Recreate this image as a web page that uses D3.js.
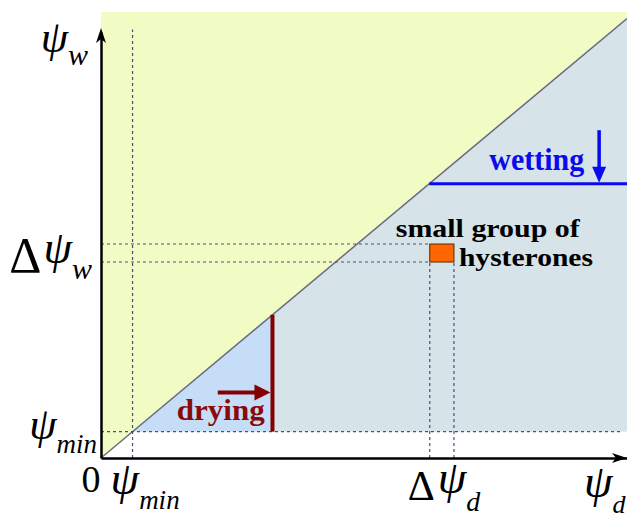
<!DOCTYPE html>
<html>
<head>
<meta charset="utf-8">
<script src="https://cdn.jsdelivr.net/npm/d3@7"></script>
<style>
  body { margin: 0; background: #fff; }
  svg { display: block; }
</style>
</head>
<body>
<div id="chart"></div>
<script>
// Valores (en unidades de psi)
const psiDomain = [0, 100];     // psi_d
const psiWDomain = [0, 101.5];  // psi_w
const psiMin = 6;
const dryingFront = 32.6;
const wettingFront = 62.4;
const groupD = [62.5, 67.1];    // pequeño grupo de histerones (psi_d)
const groupW = [44.6, 48.7];    // (psi_w)
const dryingArrow = [22.2, 14.9];   // inicio en psi_d, altura en psi_w
const wettingArrow = [94.7, 74.6];  // posición en psi_d, inicio en psi_w

const W = 627, H = 518;
const serif = "'Liberation Serif', 'Times New Roman', serif";

const svg = d3.select('#chart').append('svg')
    .attr('width', W)
    .attr('height', H);

const x = d3.scaleLinear().domain(psiDomain).range([101, 627]);
const y = d3.scaleLinear().domain(psiWDomain).range([458, 12]);

const dMax = psiDomain[1];
const poly = pts => pts.map(p => x(p[0]) + ',' + y(p[1])).join(' ');

// Regiones del triángulo de Preisach
svg.append('rect')
    .attr('x', x(0)).attr('y', y(psiWDomain[1]))
    .attr('width', x(dMax) - x(0)).attr('height', y(0) - y(psiWDomain[1]))
    .attr('fill', '#f1fbc4');

svg.append('polygon')
    .attr('points', poly([[psiMin, psiMin], [dMax, psiMin], [dMax, dMax]]))
    .attr('fill', '#d6e3e8');

svg.append('polygon')
    .attr('points', poly([[psiMin, psiMin], [dryingFront, psiMin], [dryingFront, dryingFront]]))
    .attr('fill', '#c5ddf7');

svg.append('polygon')
    .attr('points', poly([[0, 0], [dMax, 0], [dMax, psiMin], [psiMin, psiMin]]))
    .attr('fill', '#ffffff');

// Diagonal psi_w = psi_d
svg.append('line')
    .attr('x1', x(0)).attr('y1', y(0))
    .attr('x2', x(dMax)).attr('y2', y(dMax))
    .attr('stroke', '#6a6a82').attr('stroke-width', 1.5);

// Líneas punteadas
const dashed = (x1, y1, x2, y2) => svg.append('line')
    .attr('x1', x(x1)).attr('y1', y(y1))
    .attr('x2', x(x2)).attr('y2', y(y2))
    .attr('stroke', '#4c4c82').attr('stroke-width', 1.2)
    .attr('stroke-dasharray', '3,3');

dashed(psiMin, 0, psiMin, 97.5);
dashed(0, psiMin, 99, psiMin);
groupW.forEach(v => dashed(0, v, groupD[0], v));
groupD.forEach(v => dashed(v, 0, v, groupW[0]));

// Frente de secado
svg.append('line')
    .attr('x1', x(dryingFront)).attr('y1', y(psiMin))
    .attr('x2', x(dryingFront)).attr('y2', y(dryingFront))
    .attr('stroke', '#850000').attr('stroke-width', 4);

const ax = x(dryingArrow[0]), ay = y(dryingArrow[1]), tipX = x(dryingFront) - 2;
svg.append('line')
    .attr('x1', ax).attr('y1', ay).attr('x2', tipX - 12).attr('y2', ay)
    .attr('stroke', '#850000').attr('stroke-width', 4);
svg.append('path')
    .attr('d', `M${tipX},${ay} L${tipX - 16},${ay - 8} L${tipX - 16},${ay + 8} Z`)
    .attr('fill', '#850000');

svg.append('text')
    .attr('x', x(dryingArrow[0]) - 41).attr('y', y(psiMin) - 12)
    .attr('font-family', serif).attr('font-weight', 'bold').attr('font-size', 29)
    .attr('fill', '#8a0a0a')
    .attr('textLength', 88).attr('lengthAdjust', 'spacingAndGlyphs')
    .text('drying');

// Frente de humedecimiento
svg.append('line')
    .attr('x1', x(wettingFront)).attr('y1', y(wettingFront))
    .attr('x2', x(dMax)).attr('y2', y(wettingFront))
    .attr('stroke', '#0a0aee').attr('stroke-width', 3);

const wx = x(wettingArrow[0]), wy = y(wettingArrow[1]), tipY = y(wettingFront) - 1;
svg.append('line')
    .attr('x1', wx).attr('y1', wy).attr('x2', wx).attr('y2', tipY - 12)
    .attr('stroke', '#0a0aee').attr('stroke-width', 3.5);
svg.append('path')
    .attr('d', `M${wx},${tipY} L${wx - 7},${tipY - 16} L${wx + 7},${tipY - 16} Z`)
    .attr('fill', '#0a0aee');

svg.append('text')
    .attr('x', x(wettingFront) + 60).attr('y', y(wettingFront) - 14)
    .attr('font-family', serif).attr('font-weight', 'bold').attr('font-size', 31)
    .attr('fill', '#0a0aee')
    .attr('textLength', 95).attr('lengthAdjust', 'spacingAndGlyphs')
    .text('wetting');

// Pequeño grupo de histerones
svg.append('rect')
    .attr('x', x(groupD[0])).attr('y', y(groupW[1]))
    .attr('width', x(groupD[1]) - x(groupD[0])).attr('height', y(groupW[0]) - y(groupW[1]))
    .attr('fill', '#ff6600').attr('stroke', '#5a2800').attr('stroke-width', 1);

svg.append('text')
    .attr('x', x(groupD[0]) - 34).attr('y', y(groupW[1]) - 7)
    .attr('font-family', serif).attr('font-weight', 'bold').attr('font-size', 25)
    .attr('textLength', 184).attr('lengthAdjust', 'spacingAndGlyphs')
    .text('small group of');
svg.append('text')
    .attr('x', x(groupD[1]) + 5).attr('y', y(groupW[0]) + 4)
    .attr('font-family', serif).attr('font-weight', 'bold').attr('font-size', 25)
    .attr('textLength', 134).attr('lengthAdjust', 'spacingAndGlyphs')
    .text('hysterones');

// Ejes con flechas
const xAxis = d3.axisBottom(x).tickValues([]).tickSizeOuter(0);
svg.append('g').attr('transform', `translate(0,${y(0)})`).call(xAxis)
    .select('.domain').attr('stroke', '#000').attr('stroke-width', 2.5);

const yAxisScale = y.copy().range([y(0), 32]);
const yAxis = d3.axisLeft(yAxisScale).tickValues([]).tickSizeOuter(0);
svg.append('g').attr('transform', `translate(${x(0)},0)`).call(yAxis)
    .select('.domain').attr('stroke', '#000').attr('stroke-width', 2.5);

const ox = x(0), oy = y(0);
svg.append('path')
    .attr('d', `M${ox},28 L${ox - 5},43 L${ox},39 L${ox + 5},43 Z`)
    .attr('fill', '#000');
svg.append('path')
    .attr('d', `M627,${oy} L612,${oy - 5} L616,${oy} L612,${oy + 5} Z`)
    .attr('fill', '#000');

// Etiquetas de los ejes
function symLabel(px, py, anchor, parts) {
    const t = svg.append('text')
        .attr('x', px).attr('y', py)
        .attr('text-anchor', anchor)
        .attr('font-family', serif);
    parts.forEach(p => t.append('tspan')
        .attr('font-size', p.s)
        .attr('font-style', p.i ? 'italic' : 'normal')
        .attr('dx', p.dx || 0)
        .attr('dy', p.dy || 0)
        .text(p.t));
}

symLabel(88, 52, 'end', [{t: 'ψ', s: 44, i: true}, {t: 'w', s: 30, i: true, dy: 13}]);
symLabel(92, (y(groupW[0]) + y(groupW[1])) / 2 + 19, 'end', [
    {t: 'Δ', s: 50},
    {t: 'ψ', s: 46, i: true, dx: 2, dy: -9},
    {t: 'w', s: 30, i: true, dy: 16}]);
symLabel(97, y(psiMin) + 7, 'end', [{t: 'ψ', s: 44, i: true}, {t: 'min', s: 27, i: true, dy: 14}]);

symLabel(x(0) - 10, 492, 'middle', [{t: '0', s: 38}]);
symLabel(x(psiMin) - 22, 494, 'start', [{t: 'ψ', s: 46, i: true}, {t: 'min', s: 27, i: true, dy: 15}]);
symLabel(x(groupD[0]) - 22, 500, 'start', [
    {t: 'Δ', s: 42},
    {t: 'ψ', s: 46, i: true, dx: 3, dy: -7},
    {t: 'd', s: 28, i: true, dy: 18}]);
symLabel(584, 497, 'start', [{t: 'ψ', s: 46, i: true}, {t: 'd', s: 26, i: true, dy: 16}]);
</script>
</body>
</html>
